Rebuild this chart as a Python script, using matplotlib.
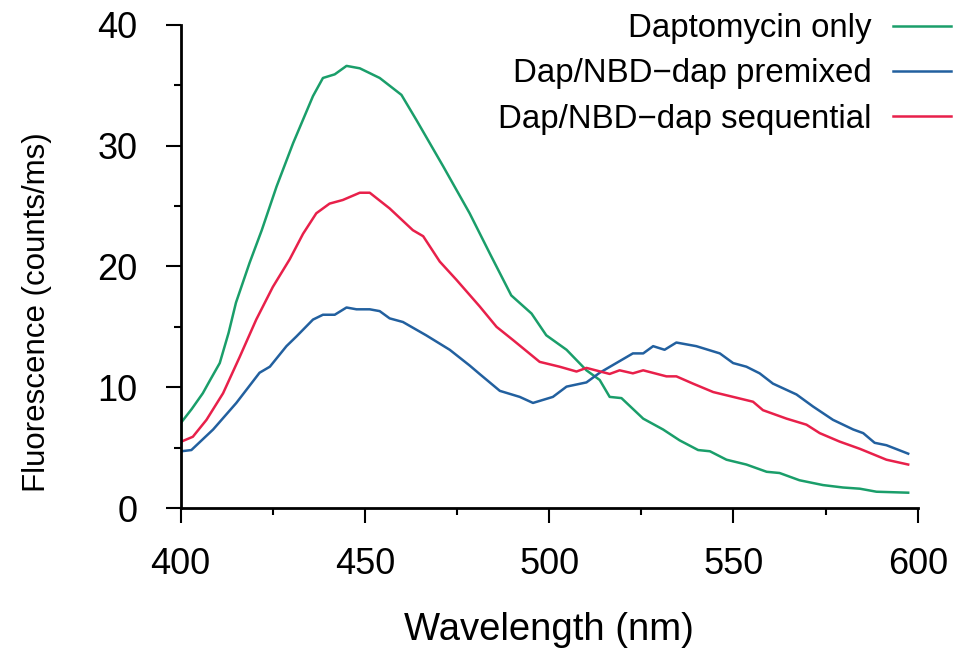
import matplotlib
matplotlib.use("Agg")
import matplotlib.pyplot as plt
from matplotlib.ticker import MultipleLocator

plt.rcParams['font.family'] = ['Liberation Sans', 'DejaVu Sans']

# Daptomycin only
wl_dap = [400.2, 403, 406, 408, 410.6, 413, 415, 418.7, 422, 426, 430.5, 435.9, 438.6,
          441.8, 445, 448.6, 454, 459.9, 464, 471.2, 478.4, 484, 489.7, 495.2, 499.2,
          504.7, 510.1, 513.7, 516.4, 519.6, 525.5, 530.9, 535.4, 540.4, 543.6, 548.1,
          553.5, 559, 562.5, 567.9, 574.3, 579.7, 584.3, 588.8, 597.4]
fl_dap = [7.1, 8.2, 9.5, 10.6, 12.0, 14.5, 17.0, 20.3, 23.0, 26.6, 30.2, 34.1, 35.6,
          35.9, 36.6, 36.4, 35.6, 34.2, 32.1, 28.3, 24.4, 21.0, 17.6, 16.1, 14.3,
          13.1, 11.4, 10.6, 9.2, 9.1, 7.4, 6.5, 5.6, 4.8, 4.7, 4.0,
          3.6, 3.0, 2.9, 2.3, 1.9, 1.7, 1.6, 1.35, 1.27]

# Dap/NBD-dap premixed
wl_pre = [400.2, 402.9, 408.8, 415.1, 421.4, 424.2, 428.7, 431.4, 435.9, 438.6, 441.8,
          445, 447.7, 451.3, 454, 456.7, 460.3, 466.6, 473, 478.4, 481.1, 486.6, 492,
          495.6, 501, 504.7, 510.1, 513.7, 518.2, 522.7, 525.5, 528.2, 531.3, 534.5,
          539.9, 546.3, 549.9, 553.5, 557.1, 560.7, 567.1, 571.6, 577, 582.5, 585.2,
          588.3, 591.5, 597.4]
fl_pre = [4.7, 4.8, 6.5, 8.7, 11.2, 11.7, 13.4, 14.2, 15.6, 16.0, 16.0,
          16.6, 16.45, 16.45, 16.3, 15.7, 15.4, 14.3, 13.1, 11.8, 11.1, 9.7, 9.2,
          8.7, 9.2, 10.05, 10.4, 11.2, 12.0, 12.8, 12.8, 13.4, 13.1, 13.7,
          13.4, 12.8, 12.0, 11.7, 11.15, 10.3, 9.4, 8.4, 7.3, 6.5, 6.2,
          5.4, 5.2, 4.5]

# Dap/NBD-dap sequential
wl_seq = [400.2, 403.3, 407, 411.5, 416, 420.5, 425, 429.6, 433.2, 436.8, 440.4, 444,
          448.6, 451.3, 456.7, 463, 465.8, 470.3, 474.8, 481.1, 485.7, 490.2, 497.4,
          502.8, 507.4, 510.1, 516.4, 519.1, 522.7, 525.5, 531.8, 534.5, 539, 544.5,
          549.9, 555.3, 558, 564.4, 569.8, 573.4, 578.8, 584.3, 591.5, 597.4]
fl_seq = [5.5, 5.9, 7.3, 9.5, 12.5, 15.6, 18.3, 20.6, 22.7, 24.4, 25.2, 25.5,
          26.1, 26.1, 24.8, 23.0, 22.5, 20.4, 18.9, 16.7, 15.0, 13.9, 12.1,
          11.7, 11.3, 11.6, 11.1, 11.4, 11.15, 11.4, 10.9, 10.9, 10.3, 9.6,
          9.2, 8.8, 8.1, 7.4, 6.9, 6.2, 5.5, 4.9, 4.0, 3.6]

labels = ['Daptomycin only', 'Dap/NBD\u2212dap premixed', 'Dap/NBD\u2212dap sequential']
colors = ['#1a9e6a', '#22609f', '#e8204a']

fig = plt.figure(figsize=(9.56, 6.53), dpi=100)
ax = fig.add_axes([0.189, 0.222, 0.771, 0.740])

ax.plot(wl_dap, fl_dap, color=colors[0], lw=1.8, label=labels[0])
ax.plot(wl_pre, fl_pre, color=colors[1], lw=1.8, label=labels[1])
ax.plot(wl_seq, fl_seq, color=colors[2], lw=1.8, label=labels[2])

ax.set_xlim(400, 600)
ax.set_ylim(0, 40)
ax.xaxis.set_major_locator(MultipleLocator(50))
ax.xaxis.set_minor_locator(MultipleLocator(25))
ax.yaxis.set_major_locator(MultipleLocator(10))
ax.yaxis.set_minor_locator(MultipleLocator(5))

for s in ['top', 'right']:
    ax.spines[s].set_visible(False)
for s in ['left', 'bottom']:
    ax.spines[s].set_linewidth(2)

ax.tick_params(which='major', direction='out', length=11, width=1.5, labelsize=26)
ax.tick_params(axis='x', which='major', pad=17)
ax.tick_params(axis='y', which='major', pad=20)
ax.tick_params(which='minor', direction='out', length=5, width=1.5)

ax.set_xlabel('Wavelength (nm)', fontsize=27.5, labelpad=22)
ax.set_ylabel('Fluorescence (counts/ms)', fontsize=22.5)
ax.yaxis.set_label_coords(-0.175, 0.406)

fig.legend(loc='upper right', bbox_to_anchor=(0.998, 0.985), frameon=False,
           markerfirst=False, fontsize=23.8, handlelength=1.75, handletextpad=0.65,
           labelspacing=0.43, borderaxespad=0, borderpad=0.1)

fig.savefig('out.png', dpi=100)
